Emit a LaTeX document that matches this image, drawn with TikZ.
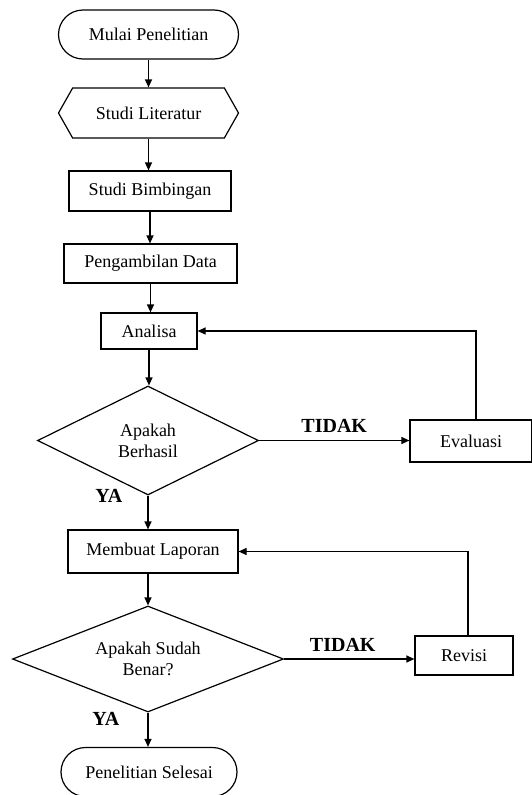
\documentclass[tikz,border=0pt]{standalone}
\usepackage{fontspec}
\setmainfont{Liberation Serif}
\usetikzlibrary{shapes.geometric,shapes.misc,shapes.symbols,arrows.meta,positioning}

\begin{document}
\begin{tikzpicture}[x=1pt,y=-1pt,line width=1.2pt,
  every node/.style={font=\fontsize{18}{21}\selectfont,inner sep=0pt},
  term/.style={draw,rounded rectangle,minimum height=49pt},
  prep/.style={draw,signal,signal to=west and east,signal pointer angle=121,minimum height=50pt},
  proc/.style={draw,rectangle},
  dec/.style={draw,diamond,align=center},
  lbl/.style={font=\fontsize{20}{22}\selectfont\bfseries},
  flow/.style={-{Triangle[length=8pt,width=7pt]}}]
 \useasboundingbox (0,0) rectangle (531,795);
 \node[term,minimum width=180pt] (start) at (148.5,34.5) {Mulai Penelitian};
 \node[prep,minimum width=180pt] (lit) at (148.5,113) {Studi Literatur};
 \node[proc,minimum width=162pt,minimum height=40pt] (bimb) at (150,191) {Studi Bimbingan};
 \node[proc,minimum width=173pt,minimum height=39pt] (data) at (150.5,263.5) {Pengambilan Data};
 \node[proc,minimum width=96pt,minimum height=36pt] (anls) at (149,331) {Analisa};
 \node[dec,aspect=2.03,minimum width=221pt,minimum height=109pt] (cek1) at (148,440.5) {Apakah\\Berhasil};
 \node[proc,minimum width=122pt,minimum height=42pt] (eval) at (471,441) {Evaluasi};
 \node[proc,minimum width=170pt,minimum height=43pt] (lapor) at (153,551.5) {Membuat Laporan};
 \node[dec,aspect=2.56,minimum width=271pt,minimum height=106pt] (cek2) at (148,659) {Apakah Sudah\\Benar?};
 \node[proc,minimum width=98pt,minimum height=39pt] (rev) at (464,655.5) {Revisi};
 \node[term,minimum width=176pt] (stop) at (149,772) {Penelitian Selesai};
 \node[lbl,anchor=east] (ya1) at ([xshift=-25pt]cek1.south) {YA};
 \node[lbl,anchor=east] (ya2) at ([xshift=-28pt,yshift=-6pt]cek2.south) {YA};
 %
 \draw[flow] (start.south) -- (start.south |- lit.north);
 \draw[flow] (lit.south) -- (lit.south |- bimb.north);
 \draw[flow] (bimb.south) -- (bimb.south |- data.north);
 \draw[flow] (data.south) -- (data.south |- anls.north);
 \draw[flow] (anls.south) -- (anls.south |- cek1.north);
 \draw[flow] (cek1.east) -- (cek1.east -| eval.west) node[lbl,midway,above=7pt] (tdk1) {TIDAK};
 \draw[flow] ([xshift=5pt]eval.north) |- (anls.east);
 \draw[flow] (cek1.south) -- (cek1.south |- lapor.north);
 \draw[flow] (lapor.south -| cek2.north) -- (cek2.north);
 \draw[flow] (cek2.east) -- (cek2.east -| rev.west) node[lbl,pos=0.45,above=7pt] (tdk2) {TIDAK};
 \draw[flow] ([xshift=4pt]rev.north) |- (lapor.east);
 \draw[flow] (cek2.south) -- (cek2.south |- stop.north);
\end{tikzpicture}
\end{document}
